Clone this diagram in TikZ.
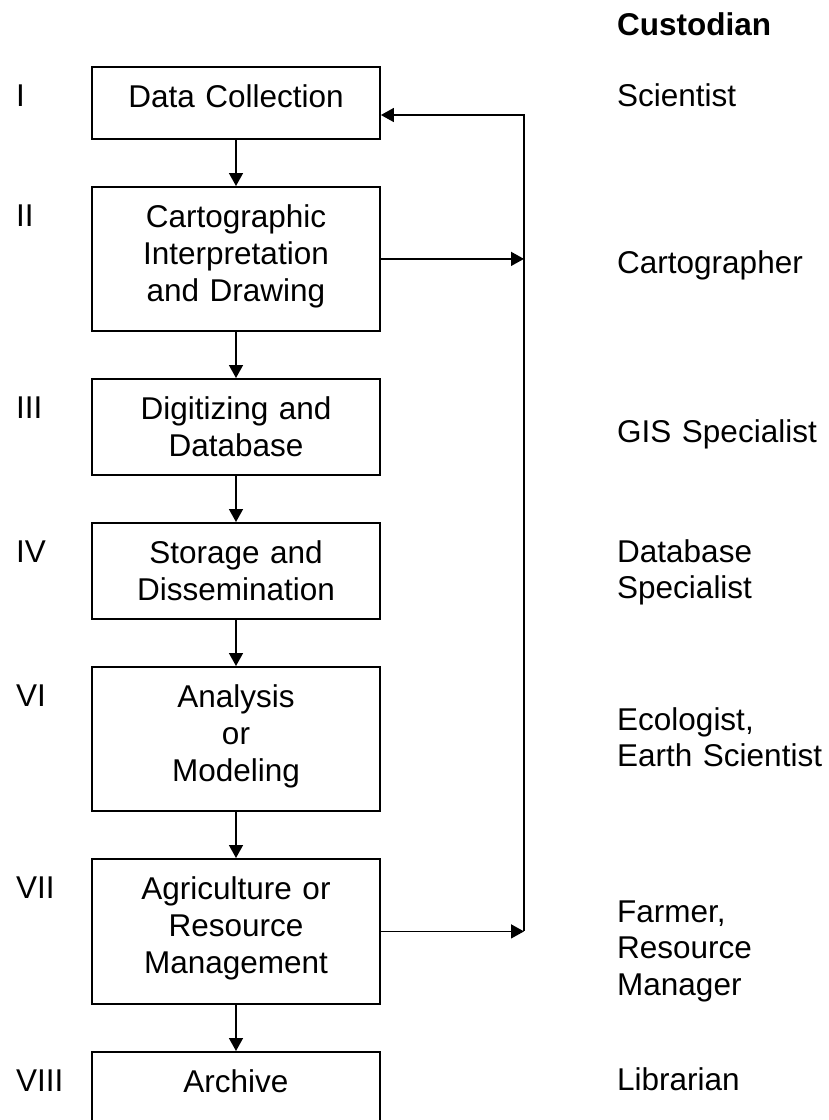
\documentclass[tikz,border=0pt]{standalone}
\usepackage{fontspec}
\setmainfont{Liberation Sans}
\usetikzlibrary{calc,positioning,arrows.meta}

\newcommand\chartfont{\fontsize{31.5pt}{36.8pt}\selectfont}

\begin{document}
\begin{tikzpicture}[x=1pt, y=-1pt, node distance=46.2pt, font=\chartfont]
	\tikzstyle{stage}=[draw=black, line width=1.8pt, inner sep=0pt, text width=288pt, align=center, text height=41pt]
	\tikzstyle{numeral}=[anchor=base west, inner sep=0pt]
	\tikzstyle{custodian}=[anchor=base west, inner sep=0pt, text width=215pt, align=left]
	\tikzstyle{header}=[font=\chartfont\bfseries]
	\tikzstyle{flow}=[->, >={Triangle[length=13pt, width=14pt]}, draw=black, line width=1.5pt]

	\useasboundingbox (0,0) rectangle (829,1120);

	% stages
	\node (b1) [stage, anchor=north, text depth=31pt] at (236,66) {Data Collection};
	\node (b2) [stage, below=of b1, text depth=103pt] {Cartographic\\Interpretation\\and Drawing};
	\node (b3) [stage, below=of b2, text depth=55pt] {Digitizing and\\Database};
	\node (b4) [stage, below=of b3, text depth=55pt] {Storage and\\Dissemination};
	\node (b6) [stage, below=of b4, text depth=103pt] {Analysis\\or\\Modeling};
	\node (b7) [stage, below=of b6, text depth=104pt] {Agriculture or\\Resource\\Management};
	\node (b8) [stage, below=of b7, text depth=31pt] {Archive};

	% roman numerals
	\node (n1) [numeral] at ($(b1.north) + (-220,40)$) {I};
	\node (n2) [numeral] at ($(b2.north) + (-220,40)$) {II};
	\node (n3) [numeral] at ($(b3.north) + (-220,40)$) {III};
	\node (n4) [numeral] at ($(b4.north) + (-220,40)$) {IV};
	\node (n6) [numeral] at ($(b6.north) + (-220,40)$) {VI};
	\node (n7) [numeral] at ($(b7.north) + (-220,40)$) {VII};
	\node (n8) [numeral] at ($(b8.north) + (-220,40)$) {VIII};

	% custodians
	\node (c0) [custodian, header] at (617,35) {Custodian};
	\node (c1) [custodian] at (617,106) {Scientist};
	\node (c2) [custodian] at (617,273) {Cartographer};
	\node (c3) [custodian] at (617,442) {GIS Specialist};
	\node (c4) [custodian] at (617,562) {Database\\Specialist};
	\node (c6) [custodian] at (617,730) {Ecologist,\\Earth Scientist};
	\node (c7) [custodian] at (617,922) {Farmer,\\Resource\\Manager};
	\node (c8) [custodian] at (617,1090) {Librarian};

	\draw[flow] (b1) -- (b2);
	\draw[flow] (b2) -- (b3);
	\draw[flow] (b3) -- (b4);
	\draw[flow] (b4) -- (b6);
	\draw[flow] (b6) -- (b7);
	\draw[flow] (b7) -- (b8);

	% feedback loop
	\coordinate (fb) at (524,115);
	\draw[flow] (b2) -- (b2 -| fb);
	\draw[flow] (b7) -- (b7 -| fb);
	\draw[flow] (b7 -| fb) -- (fb) -- (fb -| b1.east);
\end{tikzpicture}
\end{document}
